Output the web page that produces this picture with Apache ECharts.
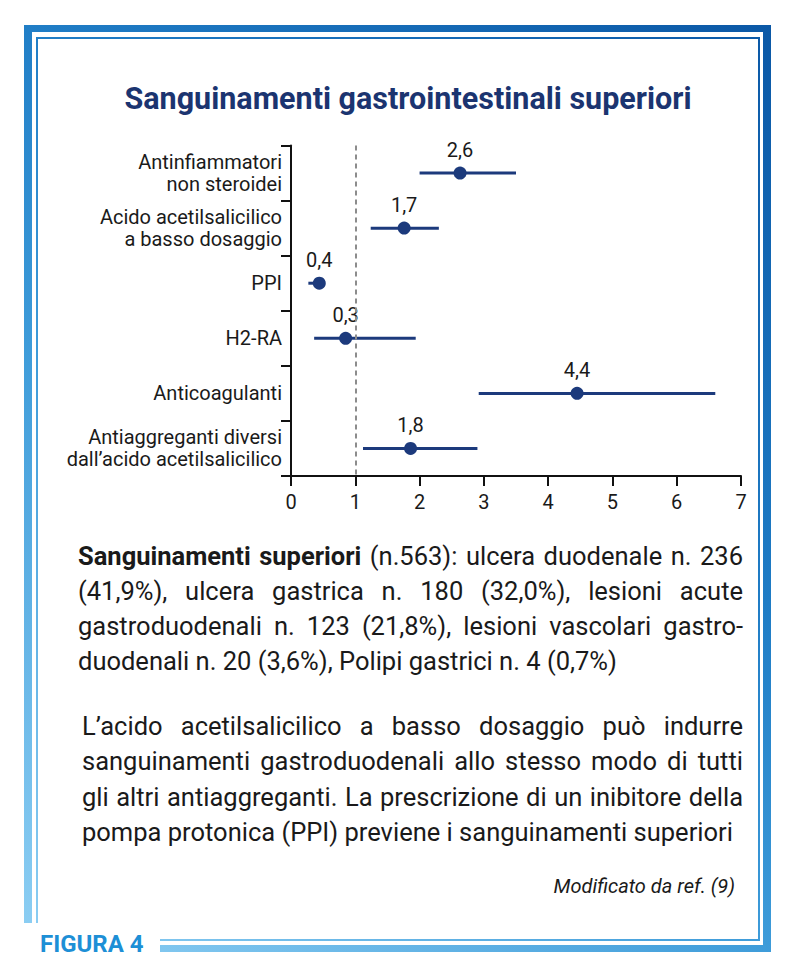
<!DOCTYPE html>
<html><head><meta charset="utf-8">
<script src="https://cdn.jsdelivr.net/npm/echarts@6/dist/echarts.min.js"></script>
<style>html,body{margin:0;padding:0;background:#fff}#c{width:797px;height:974px}</style>
</head><body><div id="c"></div>
<script>
// ---- data ----
const categories = ['Antinfiammatori\nnon steroidei', 'Acido acetilsalicilico\na basso dosaggio', 'PPI', 'H2-RA', 'Anticoagulanti', 'Antiaggreganti diversi\ndall’acido acetilsalicilico'];
const pointValues = [2.63, 1.76, 0.44, 0.85, 4.45, 1.86];
const lowerCI = [2.0, 1.24, 0.27, 0.36, 2.92, 1.12];
const upperCI = [3.5, 2.3, 0.52, 1.94, 6.6, 2.9];
const pointLabels = ['2,6', '1,7', '0,4', '0,3', '4,4', '1,8'];
const xMin = 0, xMax = 7, xStep = 1;
const referenceLine = 1;
const titleText = 'Sanguinamenti gastrointestinali superiori';
const para1 = [
  [['Sanguinamenti superiori', true], [' (n.563): ulcera duodenale n. 236', false]],
  [['(41,9%), ulcera gastrica n. 180 (32,0%), lesioni acute', false]],
  [['gastroduodenali n. 123 (21,8%), lesioni vascolari gastro-', false]],
  [['duodenali n. 20 (3,6%), Polipi gastrici n. 4 (0,7%)', false]]
];
const para2 = [
  [['L’acido acetilsalicilico a basso dosaggio può indurre', false]],
  [['sanguinamenti gastroduodenali allo stesso modo di tutti', false]],
  [['gli altri antiaggreganti. La prescrizione di un inibitore della', false]],
  [['pompa protonica (PPI) previene i sanguinamenti superiori', false]]
];
const sourceText = 'Modificato da ref. (9)';
const figureLabel = 'FIGURA 4';

// ---- helpers ----
const FONT = 'Roboto';
const TXT = '#1a1a1a';
const NAVY = '#1c3a7c';
const mctx = document.createElement('canvas').getContext('2d');
function mw(t, bold, size) { mctx.font = (bold ? 'bold ' : 'normal ') + size + 'px ' + FONT; return mctx.measureText(t).width; }
function paragraph(lines, x0, x1, y0, lh, size) {
  const els = [];
  lines.forEach((segs, li) => {
    const words = [];
    segs.forEach(([t, b]) => {
      t.split(' ').forEach((w) => { if (w.length) words.push({ t: w, b: b }); });
    });
    const y = y0 + li * lh;
    const total = words.reduce((s, w) => s + mw(w.t, w.b, size), 0);
    const last = li === lines.length - 1;
    const gap = last ? mw(' ', false, size) : (x1 - x0 - total) / (words.length - 1);
    let x = x0;
    words.forEach((w) => {
      els.push({ type: 'text', x: x, y: y, silent: true, style: { text: w.t, fill: TXT, font: (w.b ? 'bold ' : 'normal ') + size + 'px ' + FONT, textAlign: 'left', textVerticalAlign: 'middle' } });
      x += mw(w.t, w.b, size) + gap;
    });
  });
  return els;
}
const grad = new echarts.graphic.LinearGradient(24, 952, 771, 25, [
  { offset: 0, color: '#8fd0f4' }, { offset: 0.4, color: '#3d9bd9' }, { offset: 0.62, color: '#1f7cc5' }, { offset: 1, color: '#0b58a6' }
], true);
function bar(x, y, w, h) { return { type: 'rect', silent: true, shape: { x: x, y: y, width: w, height: h }, style: { fill: grad } }; }

const graphics = [
  // outer thick frame
  bar(24, 25, 747, 7), bar(24, 25, 8, 898), bar(763, 25, 8, 927), bar(160, 945, 611, 7),
  // inner thin frame
  bar(36, 37, 724, 2), bar(36, 37, 2, 886), bar(758, 37, 2, 904), bar(160, 939, 600, 2),
  { type: 'text', x: 408, y: 98, silent: true, style: { text: titleText, fill: '#1b3470', font: 'bold 30.5px ' + FONT, textAlign: 'center', textVerticalAlign: 'middle' } },
  { type: 'text', x: 40, y: 944, silent: true, style: { text: figureLabel, fill: '#1d8fd6', font: 'bold 24px ' + FONT, textAlign: 'left', textVerticalAlign: 'middle' } },
  { type: 'text', x: 735, y: 886, silent: true, style: { text: sourceText, fill: TXT, font: 'italic 20px ' + FONT, textAlign: 'right', textVerticalAlign: 'middle' } }
].concat(paragraph(para1, 78, 743, 556, 35, 25.5)).concat(paragraph(para2, 82, 743, 726, 35.3, 25.5));

const chart = echarts.init(document.getElementById('c'), null, { renderer: 'svg' });
chart.setOption({
  animation: false,
  backgroundColor: '#fff',
  grid: { left: 291, right: 56, top: 145.5, bottom: 498, containLabel: false },
  xAxis: {
    type: 'value', min: xMin, max: xMax, interval: xStep,
    axisLine: { show: true, lineStyle: { color: '#111', width: 2 } },
    axisTick: { show: true, length: 10, lineStyle: { color: '#111', width: 2 } },
    axisLabel: { fontSize: 20, color: TXT, fontFamily: FONT, margin: 16 },
    splitLine: { show: false }
  },
  yAxis: {
    type: 'category', data: categories, inverse: true,
    axisLine: { show: true, lineStyle: { color: '#111', width: 2 } },
    axisTick: { show: true, length: 10, lineStyle: { color: '#111', width: 2 } },
    axisLabel: { fontSize: 20, color: TXT, fontFamily: FONT, margin: 9, lineHeight: 22, align: 'right' },
    splitLine: { show: false }
  },
  series: [
    {
      type: 'custom', z: 2,
      data: categories.map((c, i) => [lowerCI[i], upperCI[i], i]),
      encode: { x: [0, 1], y: 2 },
      renderItem: function (params, api) {
        const p1 = api.coord([api.value(0), api.value(2)]);
        const p2 = api.coord([api.value(1), api.value(2)]);
        return { type: 'line', shape: { x1: p1[0], y1: p1[1], x2: p2[0], y2: p2[1] }, style: { stroke: NAVY, lineWidth: 3 } };
      }
    },
    {
      type: 'scatter', z: 3, symbol: 'circle', symbolSize: 13,
      itemStyle: { color: NAVY, opacity: 1 },
      data: pointValues.map((v, i) => [v, i]),
      label: { show: true, position: 'top', distance: 7, formatter: (p) => pointLabels[p.dataIndex], color: TXT, opacity: 1, fontSize: 20, fontFamily: FONT },
      markLine: {
        silent: true, symbol: ['none', 'none'], label: { show: false },
        lineStyle: { color: '#8c8c8c', width: 2, type: [5, 4], opacity: 1 },
        data: [{ xAxis: referenceLine }]
      }
    }
  ],
  graphic: graphics
});
</script>
</body></html>
